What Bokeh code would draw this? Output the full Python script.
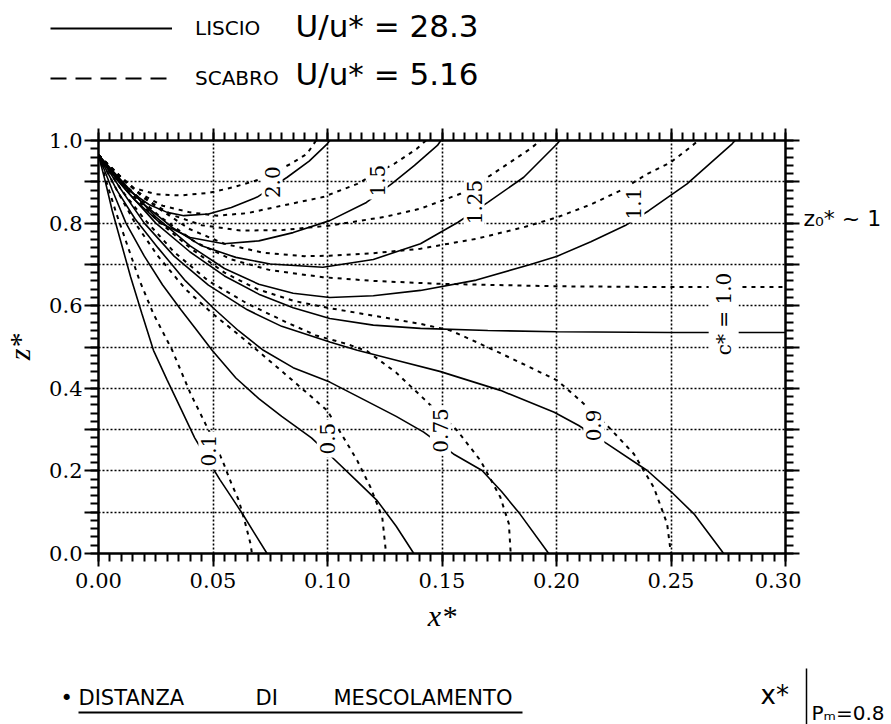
import math
from bokeh.plotting import figure
from bokeh.layouts import column, row
from bokeh.models import (Range1d, LinearAxis, FixedTicker, Label, Legend,
                          LegendItem, Arrow)
from bokeh.embed import file_html
from bokeh.resources import INLINE

# ---------------- data ----------------
LEVELS = ["0.1", "0.5", "0.75", "0.9", "1.0", "1.1", "1.25", "1.5", "2.0"]

# LISCIO (smooth bed, U/u* = 28.3) – solid contours of c*
LISCIO_01_X = [0.000, 0.003, 0.006, 0.010, 0.014, 0.019, 0.024, 0.030, 0.036, 0.042, 0.048, 0.053, 0.058, 0.063, 0.068, 0.0736]
LISCIO_01_Z = [0.965, 0.900, 0.830, 0.750, 0.670, 0.580, 0.492, 0.420, 0.350, 0.280, 0.224, 0.179, 0.137, 0.095, 0.050, 0.000]
LISCIO_05_X = [0.000, 0.006, 0.012, 0.020, 0.028, 0.036, 0.043, 0.0496, 0.060, 0.070, 0.080, 0.093, 0.102, 0.112, 0.1217, 0.130, 0.1377]
LISCIO_05_Z = [0.965, 0.880, 0.800, 0.720, 0.650, 0.590, 0.540, 0.492, 0.425, 0.375, 0.332, 0.280, 0.233, 0.180, 0.128, 0.066, 0.000]
LISCIO_075_X = [0.000, 0.008, 0.016, 0.026, 0.038, 0.050, 0.061, 0.072, 0.085, 0.101, 0.115, 0.130, 0.142, 0.155, 0.1675, 0.176, 0.184, 0.1966]
LISCIO_075_Z = [0.965, 0.880, 0.810, 0.740, 0.660, 0.595, 0.540, 0.492, 0.450, 0.415, 0.375, 0.332, 0.294, 0.241, 0.201, 0.150, 0.096, 0.000]
LISCIO_09_X = [0.000, 0.010, 0.020, 0.033, 0.048, 0.065, 0.080, 0.101, 0.113, 0.130, 0.149, 0.1755, 0.199, 0.2097, 0.222, 0.2396, 0.250, 0.260, 0.273]
LISCIO_09_Z = [0.965, 0.880, 0.800, 0.720, 0.650, 0.590, 0.550, 0.512, 0.492, 0.468, 0.441, 0.395, 0.342, 0.310, 0.266, 0.201, 0.150, 0.096, 0.000]
LISCIO_10_X = [0.000, 0.012, 0.025, 0.040, 0.055, 0.070, 0.085, 0.101, 0.120, 0.1406, 0.170, 0.200, 0.250, 0.300]
LISCIO_10_Z = [0.965, 0.880, 0.800, 0.730, 0.672, 0.628, 0.595, 0.569, 0.553, 0.545, 0.540, 0.537, 0.535, 0.535]
LISCIO_11_X = [0.000, 0.013, 0.025, 0.040, 0.055, 0.070, 0.085, 0.101, 0.120, 0.1406, 0.165, 0.1886, 0.2003, 0.215, 0.230, 0.2403, 0.257, 0.2767, 0.278]
LISCIO_11_Z = [0.965, 0.885, 0.815, 0.745, 0.690, 0.652, 0.630, 0.620, 0.624, 0.637, 0.662, 0.700, 0.720, 0.755, 0.794, 0.830, 0.895, 0.992, 1.000]
LISCIO_125_X = [0.000, 0.010, 0.020, 0.032, 0.045, 0.060, 0.075, 0.098, 0.120, 0.1406, 0.157, 0.170, 0.1857, 0.2003, 0.2015]
LISCIO_125_Z = [0.965, 0.900, 0.845, 0.790, 0.745, 0.717, 0.701, 0.693, 0.712, 0.750, 0.802, 0.850, 0.911, 0.992, 1.000]
LISCIO_15_X = [0.000, 0.008, 0.016, 0.027, 0.040, 0.0547, 0.070, 0.085, 0.101, 0.117, 0.128, 0.138, 0.148, 0.1495]
LISCIO_15_Z = [0.965, 0.905, 0.855, 0.800, 0.765, 0.750, 0.757, 0.777, 0.806, 0.850, 0.895, 0.940, 0.988, 1.000]
LISCIO_20_X = [0.000, 0.006, 0.013, 0.022, 0.030, 0.0373, 0.048, 0.058, 0.0693, 0.0824, 0.092, 0.0999, 0.101]
LISCIO_20_Z = [0.965, 0.920, 0.880, 0.845, 0.826, 0.818, 0.822, 0.838, 0.863, 0.911, 0.950, 0.992, 1.000]

# SCABRO (rough bed, U/u* = 5.16) – dashed contours of c*
SCABRO_01_X = [0.000, 0.004, 0.008, 0.013, 0.018, 0.024, 0.0322, 0.0402, 0.0467, 0.051, 0.0547, 0.058, 0.0613, 0.064, 0.0664, 0.067]
SCABRO_01_Z = [0.965, 0.890, 0.820, 0.740, 0.660, 0.580, 0.492, 0.387, 0.314, 0.265, 0.217, 0.170, 0.128, 0.075, 0.023, 0.000]
SCABRO_05_X = [0.000, 0.008, 0.016, 0.026, 0.038, 0.050, 0.060, 0.0693, 0.085, 0.0999, 0.1086, 0.113, 0.1188, 0.1239, 0.1253, 0.1255]
SCABRO_05_Z = [0.965, 0.880, 0.800, 0.720, 0.640, 0.580, 0.535, 0.492, 0.418, 0.346, 0.266, 0.225, 0.160, 0.088, 0.015, 0.000]
SCABRO_075_X = [0.000, 0.010, 0.020, 0.033, 0.048, 0.065, 0.082, 0.095, 0.108, 0.1173, 0.130, 0.142, 0.1566, 0.1668, 0.1755, 0.1792, 0.180]
SCABRO_075_Z = [0.965, 0.880, 0.810, 0.730, 0.660, 0.605, 0.560, 0.528, 0.508, 0.490, 0.438, 0.375, 0.298, 0.225, 0.136, 0.072, 0.000]
SCABRO_09_X = [0.000, 0.012, 0.025, 0.040, 0.055, 0.0693, 0.085, 0.101, 0.120, 0.1406, 0.1537, 0.165, 0.1755, 0.188, 0.2003, 0.2105, 0.2228, 0.2338, 0.2425, 0.2483, 0.2498, 0.250]
SCABRO_09_Z = [0.965, 0.885, 0.810, 0.740, 0.680, 0.640, 0.612, 0.594, 0.576, 0.556, 0.540, 0.512, 0.485, 0.452, 0.419, 0.370, 0.306, 0.241, 0.160, 0.072, 0.007, 0.000]
SCABRO_10_X = [0.000, 0.013, 0.027, 0.042, 0.058, 0.075, 0.098, 0.120, 0.149, 0.200, 0.250, 0.300]
SCABRO_10_Z = [0.965, 0.885, 0.815, 0.755, 0.712, 0.686, 0.669, 0.660, 0.653, 0.647, 0.645, 0.645]
SCABRO_11_X = [0.000, 0.012, 0.025, 0.040, 0.055, 0.072, 0.090, 0.101, 0.120, 0.1406, 0.165, 0.1857, 0.2003, 0.215, 0.228, 0.2396, 0.2498, 0.2585, 0.262]
SCABRO_11_Z = [0.965, 0.900, 0.840, 0.785, 0.750, 0.728, 0.720, 0.721, 0.727, 0.738, 0.762, 0.790, 0.814, 0.845, 0.879, 0.919, 0.947, 0.984, 1.000]
SCABRO_125_X = [0.000, 0.010, 0.020, 0.032, 0.045, 0.062, 0.080, 0.101, 0.125, 0.1406, 0.158, 0.171, 0.180, 0.1886, 0.193]
SCABRO_125_Z = [0.965, 0.910, 0.860, 0.820, 0.795, 0.782, 0.783, 0.794, 0.815, 0.835, 0.871, 0.915, 0.948, 0.980, 1.000]
SCABRO_15_X = [0.000, 0.008, 0.017, 0.028, 0.040, 0.0518, 0.065, 0.0766, 0.098, 0.113, 0.121, 0.129, 0.139, 0.143]
SCABRO_15_Z = [0.965, 0.920, 0.875, 0.842, 0.826, 0.818, 0.824, 0.838, 0.863, 0.895, 0.920, 0.943, 0.980, 1.000]
SCABRO_20_X = [0.000, 0.006, 0.0154, 0.025, 0.0358, 0.048, 0.059, 0.070, 0.0838, 0.0911, 0.095]
SCABRO_20_Z = [0.965, 0.930, 0.885, 0.870, 0.867, 0.873, 0.887, 0.905, 0.943, 0.968, 1.000]

# contour labels (text and position on the curve)
CLABEL_TEXT = ["2.0", "1.5", "1.25", "1.1", "0.1", "0.5", "0.75", "0.9", "c* = 1.0"]
CLABEL_X = [0.0758, 0.1217, 0.164, 0.2338, 0.0482, 0.0999, 0.1493, 0.2163, 0.273]
CLABEL_Z = [0.899, 0.903, 0.851, 0.847, 0.249, 0.278, 0.298, 0.310, 0.580]

# axis ticks
X_MAJOR = [0.00, 0.05, 0.10, 0.15, 0.20, 0.25, 0.30]
X_LABELS = ["0.00", "0.05", "0.10", "0.15", "0.20", "0.25", "0.30"]
Z_MAJOR = [0.0, 0.1, 0.2, 0.3, 0.4, 0.5, 0.6, 0.7, 0.8, 0.9, 1.0]
Z_LABELS = ["0.0", "", "0.2", "", "0.4", "", "0.6", "", "0.8", "", "1.0"]
X_MINOR = [i * 0.005 for i in range(61)]
Z_MINOR = [i * 0.02 for i in range(51)]

LEGEND_NAMES = ["LISCIO", "SCABRO"]
LEGEND_VALUES = ["U/u* = 28.3", "U/u* = 5.16"]
NOTE_RIGHT = "z₀* ~ 1"
BOTTOM_WORDS = ["•", "DISTANZA", "DI", "MESCOLAMENTO"]
BOTTOM_RIGHT = ["x*", "Pₘ=0.8"]

liscio_xs = [LISCIO_01_X, LISCIO_05_X, LISCIO_075_X, LISCIO_09_X, LISCIO_10_X,
             LISCIO_11_X, LISCIO_125_X, LISCIO_15_X, LISCIO_20_X]
liscio_zs = [LISCIO_01_Z, LISCIO_05_Z, LISCIO_075_Z, LISCIO_09_Z, LISCIO_10_Z,
             LISCIO_11_Z, LISCIO_125_Z, LISCIO_15_Z, LISCIO_20_Z]
scabro_xs = [SCABRO_01_X, SCABRO_05_X, SCABRO_075_X, SCABRO_09_X, SCABRO_10_X,
             SCABRO_11_X, SCABRO_125_X, SCABRO_15_X, SCABRO_20_X]
scabro_zs = [SCABRO_01_Z, SCABRO_05_Z, SCABRO_075_Z, SCABRO_09_Z, SCABRO_10_Z,
             SCABRO_11_Z, SCABRO_125_Z, SCABRO_15_Z, SCABRO_20_Z]

SERIF = "DejaVu Serif"
HAND = "DejaVu Sans"

# ---------------- layout sizes (pixels) ----------------
W = 891
TOP_H = 110
MAIN_W = 801
MAIN_H = 540
BOT_H = 724 - TOP_H - MAIN_H


def blank(width, height, x0, x1, y0, y1):
    """A figure without axes whose data units are page pixels."""
    f = figure(width=width, height=height, output_backend="svg", toolbar_location=None,
               x_range=Range1d(x0, x1), y_range=Range1d(y1, y0),
               x_axis_location=None, y_axis_location=None, min_border=0,
               background_fill_color="white", border_fill_color="white")
    f.grid.visible = False
    f.outline_line_color = None
    return f


# ---------------- top: legend ----------------
top = blank(W, TOP_H, 0, W, 0, TOP_H)
# the same contour series, hidden here: they only give the legend its samples
g_l = top.multi_line(xs=liscio_xs, ys=liscio_zs, line_color="black", line_width=2,
                     visible=False)
g_s = top.multi_line(xs=scabro_xs, ys=scabro_zs, line_color="black", line_width=2,
                     line_dash="16 9", visible=False)
legend = Legend(items=[LegendItem(label=LEGEND_NAMES[0], renderers=[g_l]),
                       LegendItem(label=LEGEND_NAMES[1], renderers=[g_s])],
                location=(50, 18), orientation="vertical",
                glyph_width=122, glyph_height=28, label_height=28,
                label_standoff=23, spacing=22, padding=0, margin=0,
                label_text_font=HAND, label_text_font_size="20px",
                label_text_color="black", inactive_fill_alpha=0,
                border_line_alpha=0, background_fill_alpha=0)
top.add_layout(legend, "center")
for txt, ypos in zip(LEGEND_VALUES, [25, 73]):
    top.add_layout(Label(x=295, y=ypos, text=txt, text_font=HAND,
                         text_font_size="31px", text_baseline="middle",
                         text_color="black"))

# ---------------- main chart ----------------
p = figure(width=MAIN_W, height=MAIN_H, output_backend="svg", toolbar_location=None,
           x_range=Range1d(0, 0.30), y_range=Range1d(0, 1.0),
           min_border_left=98, min_border_right=16,
           min_border_top=30, min_border_bottom=97,
           background_fill_color="white", border_fill_color="white")
p.outline_line_color = "black"
p.outline_line_width = 2

xt = FixedTicker(ticks=X_MAJOR, minor_ticks=X_MINOR)
zt = FixedTicker(ticks=Z_MAJOR, minor_ticks=Z_MINOR)


def style_axis(ax, ticker, major_out):
    ax.ticker = ticker
    ax.axis_line_color = "black"
    ax.axis_line_width = 2
    ax.major_tick_line_color = "black"
    ax.major_tick_line_width = 2
    ax.minor_tick_line_color = "black"
    ax.minor_tick_line_width = 2
    ax.major_tick_in = 0
    ax.minor_tick_in = 0
    ax.major_tick_out = major_out
    ax.minor_tick_out = 8
    ax.major_label_text_font = SERIF
    ax.major_label_text_font_size = "21px"
    ax.major_label_text_color = "black"


bx = p.xaxis[0]
ly = p.yaxis[0]
style_axis(bx, xt, 13)
bx.major_label_overrides = {v: s for v, s in zip(X_MAJOR, X_LABELS)}
bx.major_label_standoff = 6
bx.axis_label = "x*"
bx.axis_label_text_font = "Liberation Serif"
bx.axis_label_text_font_style = "italic"
bx.axis_label_text_font_size = "30px"
bx.axis_label_text_color = "black"
bx.axis_label_standoff = 8

style_axis(ly, zt, 14)
ly.major_label_overrides = {v: s for v, s in zip(Z_MAJOR, Z_LABELS)}
ly.major_label_standoff = 2
ly.axis_label = "z*"
ly.axis_label_text_font = "Liberation Serif"
ly.axis_label_text_font_style = "italic"
ly.axis_label_text_font_size = "30px"
ly.axis_label_text_color = "black"
ly.axis_label_standoff = 10

ta = LinearAxis()
style_axis(ta, xt, 12)
ta.major_label_overrides = {v: "" for v in X_MAJOR}
ta.major_label_text_font_size = "0px"
ta.major_label_standoff = 0
p.add_layout(ta, "above")
ra = LinearAxis()
style_axis(ra, zt, 14)
ra.major_label_overrides = {v: "" for v in Z_MAJOR}
ra.major_label_text_font_size = "0px"
ra.major_label_standoff = 0
p.add_layout(ra, "right")

p.xgrid.ticker = FixedTicker(ticks=X_MAJOR)
p.ygrid.ticker = FixedTicker(ticks=Z_MAJOR)
for g in (p.xgrid, p.ygrid):
    g.grid_line_color = "black"
    g.grid_line_width = 1.6
    g.grid_line_dash = "2 2"
    g.grid_line_alpha = 1.0

p.multi_line(xs=liscio_xs, ys=liscio_zs, line_color="black", line_width=1.6)
p.multi_line(xs=scabro_xs, ys=scabro_zs, line_color="black", line_width=2,
             line_dash="4 5")

# contour labels, white background breaks the lines like in the original
for t, x, z in zip(CLABEL_TEXT, CLABEL_X, CLABEL_Z):
    p.add_layout(Label(x=x, y=z, text=t, angle=math.pi / 2, text_align="center",
                       text_baseline="middle", text_font=SERIF,
                       text_font_size="20px", text_color="black",
                       background_fill_color="white", padding=3))

# ---------------- right note ----------------
right = blank(W - MAIN_W, MAIN_H, MAIN_W, W, TOP_H, TOP_H + MAIN_H)
right.add_layout(Label(x=803, y=212, text=NOTE_RIGHT, text_font=HAND,
                       text_font_size="22px", text_baseline="middle", text_color="black"))

# ---------------- bottom note ----------------
bot = blank(W, BOT_H, 0, W, TOP_H + MAIN_H, 724)
BOTTOM_X = [60, 78, 255, 333]
for w, x in zip(BOTTOM_WORDS, BOTTOM_X):
    bot.add_layout(Label(x=x, y=697, text=w, text_font=HAND, text_font_size="21px",
                         text_baseline="middle", text_color="black"))
bot.add_layout(Arrow(end=None, x_start=78, y_start=712, x_end=522, y_end=712,
                     line_width=2, line_color="black"))
bot.add_layout(Label(x=760, y=694, text=BOTTOM_RIGHT[0], text_font=HAND,
                     text_font_size="26px", text_baseline="middle", text_color="black"))
bot.add_layout(Arrow(end=None, x_start=806, y_start=668, x_end=806, y_end=724,
                     line_width=1.5, line_color="black"))
bot.add_layout(Label(x=811, y=712, text=BOTTOM_RIGHT[1], text_font=HAND,
                     text_font_size="20px", text_baseline="middle", text_color="black"))

layout = column(top, row(p, right), bot)
open("out.html", "w").write(file_html(layout, INLINE))
